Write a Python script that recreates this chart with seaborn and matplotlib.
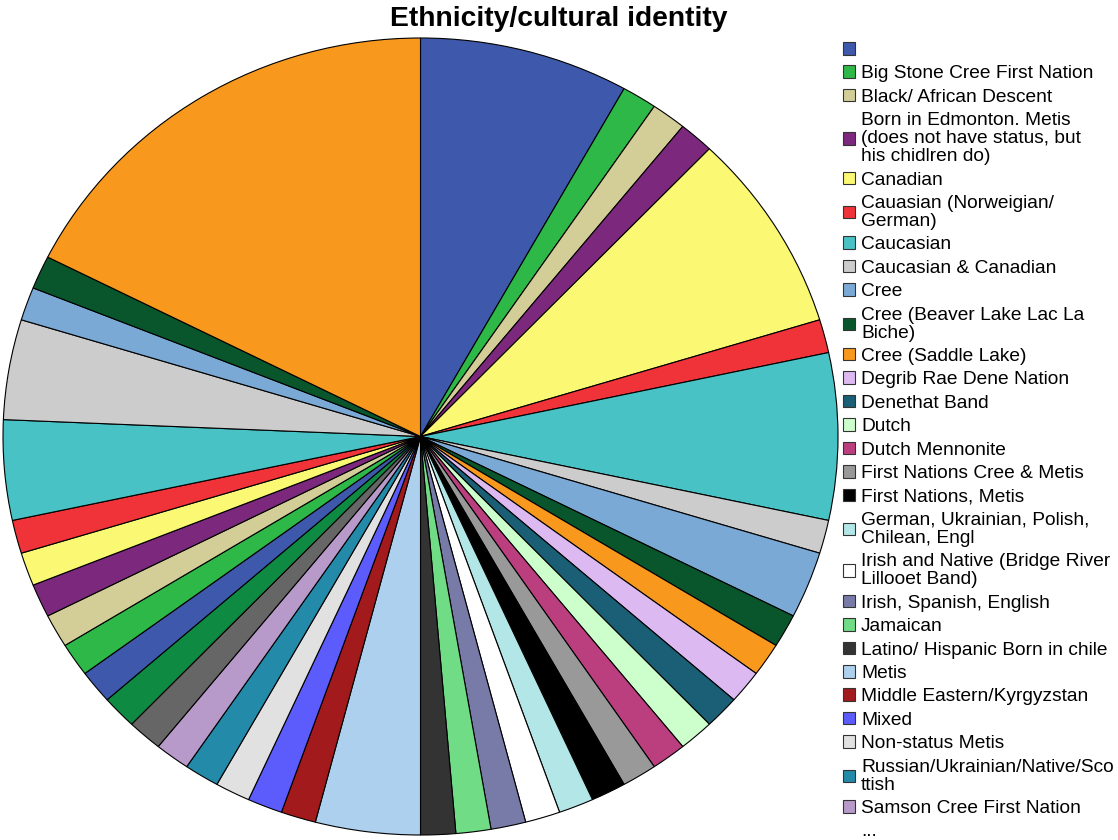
import matplotlib
matplotlib.use("Agg")
import matplotlib.pyplot as plt
from matplotlib.patches import Patch
import seaborn as sns

# ---------------- data ----------------
categories = [
    "", "Big Stone Cree First Nation", "Black/ African Descent",
    "Born in Edmonton. Metis (does not have status, but his chidlren do)",
    "Canadian", "Cauasian (Norweigian/ German)", "Caucasian",
    "Caucasian & Canadian", "Cree", "Cree (Beaver Lake Lac La Biche)",
    "Cree (Saddle Lake)", "Degrib Rae Dene Nation", "Denethat Band", "Dutch",
    "Dutch Mennonite", "First Nations Cree & Metis", "First Nations, Metis",
    "German, Ukrainian, Polish, Chilean, Engl",
    "Irish and Native (Bridge River Lillooet Band)",
    "Irish, Spanish, English", "Jamaican", "Latino/ Hispanic Born in chile",
    "Metis", "Middle Eastern/Kyrgyzstan", "Mixed", "Non-status Metis",
    "Russian/Ukrainian/Native/Scottish", "Samson Cree First Nation",
]
# categories beyond the truncated legend ("...") – names not visible
hidden_categories = [f"(not shown {i})" for i in range(29, 42)]

counts = [6, 1, 1, 1, 6, 1, 5, 1, 2, 1, 1, 1, 1, 1, 1, 1, 1, 1, 1, 1, 1, 1,
          3, 1, 1, 1, 1, 1]
hidden_counts = [1, 1, 1, 1, 1, 1, 1, 1, 3, 3, 1, 1, 13]

legend_labels = [
    "", "Big Stone Cree First Nation", "Black/ African Descent",
    "Born in Edmonton. Metis\n(does not have status, but\nhis chidlren do)",
    "Canadian", "Cauasian (Norweigian/\nGerman)", "Caucasian",
    "Caucasian & Canadian", "Cree", "Cree (Beaver Lake Lac La\nBiche)",
    "Cree (Saddle Lake)", "Degrib Rae Dene Nation", "Denethat Band", "Dutch",
    "Dutch Mennonite", "First Nations Cree & Metis", "First Nations, Metis",
    "German, Ukrainian, Polish,\nChilean, Engl",
    "Irish and Native (Bridge River\nLillooet Band)",
    "Irish, Spanish, English", "Jamaican", "Latino/ Hispanic Born in chile",
    "Metis", "Middle Eastern/Kyrgyzstan", "Mixed", "Non-status Metis",
    "Russian/Ukrainian/Native/Sco\nttish", "Samson Cree First Nation",
]

base_colors = [
    "#3e58ac", "#2eb848", "#d3ce97", "#7b287d", "#fbf873", "#ef3338",
    "#48c2c5", "#cccccc", "#7ba9d5", "#0a562c", "#f8981d", "#ddb9f1",
    "#1a5f76", "#ccffcc", "#bb3f7f", "#999999", "#000000", "#b3e6e6",
    "#ffffff", "#787aa8", "#70dc86", "#333333", "#acd0ee", "#a31a1c",
    "#5c5cfd", "#e1e1e1", "#238aa9", "#b79ac9", "#666666", "#0e8a43",
]

# ---------------- plot ----------------
sns.set_theme(style="white")
plt.rcParams["font.family"] = ["Liberation Sans", "DejaVu Sans"]

all_cats = categories + hidden_categories
all_counts = counts + hidden_counts
palette = sns.color_palette(base_colors, n_colors=len(base_colors))
colors = [palette[i % len(palette)] for i in range(len(all_cats))]

W, H = 1118, 840
fig = plt.figure(figsize=(W / 100, H / 100), dpi=100)
fig.patch.set_facecolor("white")

# pie area (slightly elliptical, as in the reference)
left_px, right_px, top_px, bottom_px = 3, 838, 38, 835
ax = fig.add_axes([left_px / W, 1 - bottom_px / H,
                   (right_px - left_px) / W, (bottom_px - top_px) / H])
wedges, _ = ax.pie(all_counts, colors=colors, startangle=90, counterclock=False,
                   wedgeprops=dict(edgecolor="black", linewidth=0.8,
                                   clip_on=False))
ax.set_aspect("auto")
ax.set_xlim(-1, 1)
ax.set_ylim(-1, 1)
ax.axis("off")

fig.text(0.5, 1 - 26 / H, "Ethnicity/cultural identity", ha="center",
         va="baseline", fontsize=20.3, fontweight="bold", color="black")

# legend (truncated, like the reference)
handles = [Patch(facecolor=colors[i], edgecolor="#333333", linewidth=0.8)
           for i in range(len(categories))]
handles.append(Patch(facecolor="none", edgecolor="none"))
labels = legend_labels + ["..."]
fs = 13.8
leg = fig.legend(handles, labels, loc="upper left",
                 bbox_to_anchor=(843 / W, 1 - 42 / H), frameon=False,
                 fontsize=fs, handlelength=0.63, handleheight=0.63,
                 handletextpad=0.31, labelspacing=0.335, borderpad=0,
                 borderaxespad=0)
for t in leg.get_texts():
    t.set_linespacing(1.07)
    t.set_color("black")

fig.savefig("out.png", dpi=100, facecolor="white")
